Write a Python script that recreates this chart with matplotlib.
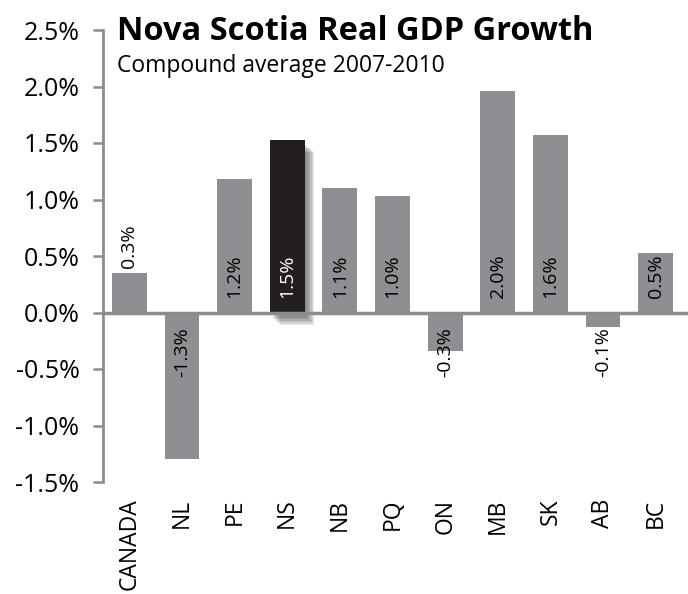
import matplotlib
matplotlib.use("Agg")
import matplotlib.pyplot as plt
import matplotlib.patheffects as pe
from matplotlib.ticker import FuncFormatter

categories = ["CANADA", "NL", "PE", "NS", "NB", "PQ", "ON", "MB", "SK", "AB", "BC"]
values = [0.35, -1.30, 1.18, 1.53, 1.10, 1.03, -0.34, 1.96, 1.57, -0.13, 0.53]
labels = ["0.3%", "-1.3%", "1.2%", "1.5%", "1.1%", "1.0%", "-0.3%", "2.0%", "1.6%", "-0.1%", "0.5%"]
highlight = "NS"
yticks = [-1.5, -1.0, -0.5, 0.0, 0.5, 1.0, 1.5, 2.0, 2.5]

FONT = ["Open Sans", "DejaVu Sans"]
plt.rcParams['font.family'] = FONT

GRAY = "#8e8f93"
DARK = "#231f20"
AXC = "#8c8c8c"

fig = plt.figure(figsize=(6.88, 5.94), dpi=100)
ax = fig.add_axes([103/688, 1-482/594, (682-103)/688, (482-30)/594])

x = list(range(len(categories)))
colors = [DARK if c == highlight else GRAY for c in categories]
bars = ax.bar(x, values, width=0.66, color=colors, zorder=2)
for b, c in zip(bars, categories):
    if c == highlight:
        shadows = []
        for dx, dy in [(7, -9), (6, -8), (5, -7), (4, -6), (3, -5), (2, -4)]:
            shadows.append(pe.SimplePatchShadow(offset=(dx, dy), shadow_rgbFace="#000000", alpha=0.09))
        b.set_path_effects(shadows + [pe.Normal()])

ax.set_xlim(-0.5, len(categories) - 0.5)
ax.set_ylim(-1.5, 2.5)
ax.set_yticks(yticks)
ax.yaxis.set_major_formatter(FuncFormatter(lambda v, p: f"{v:.1f}%"))
ax.tick_params(axis='y', direction='out', length=7, width=1.8, color=AXC, labelsize=18, pad=10)
ax.set_xticks(x)
ax.set_xticklabels(categories, rotation=90, fontsize=16.5)
ax.tick_params(axis='x', length=0, pad=12)

for s in ["top", "right", "bottom"]:
    ax.spines[s].set_visible(False)
ax.spines["left"].set_color(AXC)
ax.spines["left"].set_linewidth(2)
ax.axhline(0, xmin=0, xmax=1.012, color=AXC, lw=2.5, zorder=3, clip_on=False)

for xi, v, lab, c in zip(x, values, labels, categories):
    col = "white" if c == highlight else "black"
    if v >= 0:
        if v < 0.5:
            ax.text(xi, v + 0.04, lab, rotation=90, ha='center', va='bottom', fontsize=14, color="black", zorder=4)
        else:
            ax.text(xi, 0.13, lab, rotation=90, ha='center', va='bottom', fontsize=14, color=col, zorder=4)
    else:
        ax.text(xi, -0.13, lab, rotation=90, ha='center', va='top', fontsize=14, color=col, zorder=4)

fig.text(117/688, 1-40/594, "Nova Scotia Real GDP Growth", fontsize=23.5, fontweight='bold', ha='left', va='baseline')
fig.text(117/688, 1-72/594, "Compound average 2007-2010", fontsize=16.5, ha='left', va='baseline')

fig.savefig("out.png", dpi=100)
